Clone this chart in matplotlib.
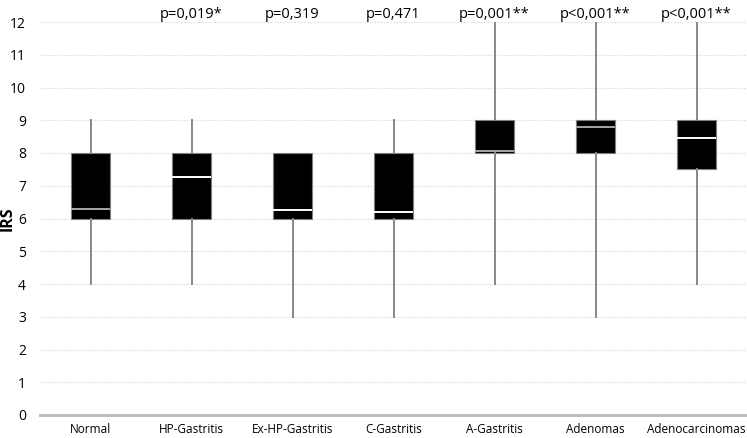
import matplotlib
matplotlib.use("Agg")
import matplotlib.pyplot as plt

groups = ["Normal", "HP-Gastritis", "Ex-HP-Gastritis", "C-Gastritis",
          "A-Gastritis", "Adenomas", "Adenocarcinomas"]
whisker_low = [4, 4, 3, 3, 4, 3, 4]
q1 = [6, 6, 6, 6, 8, 8, 7.5]
medians = [6.3, 7.28, 6.25, 6.2, 8.05, 8.8, 8.45]
q3 = [8, 8, 8, 8, 9, 9, 9]
whisker_high = [9, 9, 8, 9, 12, 12, 12]
p_values = ["", "p=0,019*", "p=0,319", "p=0,471", "p=0,001**",
            "p<0,001**", "p<0,001**"]
median_colors = ["#a6a6a6", "white", "white", "white", "#a6a6a6", "#a6a6a6", "white"]

plt.rcParams['font.family'] = ['Open Sans', 'DejaVu Sans']

fig = plt.figure(figsize=(7.47, 4.38), dpi=100)
ax = fig.add_axes([40 / 747, 23 / 438, 707 / 747, 393 / 438])

stats = []
for i in range(len(groups)):
    stats.append({
        "whislo": whisker_low[i], "q1": q1[i], "med": medians[i],
        "q3": q3[i], "whishi": whisker_high[i], "fliers": [],
    })

positions = list(range(len(groups)))
bp = ax.bxp(stats, positions=positions, widths=0.39, patch_artist=True,
            showcaps=False, showfliers=False,
            boxprops=dict(facecolor="black", edgecolor="#7f7f7f", linewidth=0.8),
            whiskerprops=dict(color="#888888", linewidth=1.4),
            medianprops=dict(linewidth=1.4))
for line, c in zip(bp["medians"], median_colors):
    line.set_color(c)

# p-values above the boxes
for i, txt in enumerate(p_values):
    if txt:
        ax.text(i, 12.24, txt, ha="center", va="center", fontsize=10.5,
                clip_on=False)

ax.set_xlim(-0.5, len(groups) - 0.5)
ax.set_ylim(0, 12)
ax.set_yticks(range(0, 13))
ax.set_xticks(positions)
ax.set_xticklabels(groups, fontsize=8.5)
ax.tick_params(axis="y", labelsize=10, length=0, pad=10)
ax.tick_params(axis="x", length=0, pad=6)
ax.set_ylabel("IRS", fontsize=11.5, fontweight="bold")
ax.yaxis.set_label_coords(-24 / 707, 0.5)

ax.grid(axis="y", color="#e4e4e4", linewidth=0.8, linestyle=(0, (2, 1)))
ax.set_axisbelow(True)
for side in ["top", "right", "left"]:
    ax.spines[side].set_visible(False)
ax.spines["bottom"].set_color("#bfbfbf")
ax.spines["bottom"].set_linewidth(2.2)

plt.savefig("out.png", dpi=100)
